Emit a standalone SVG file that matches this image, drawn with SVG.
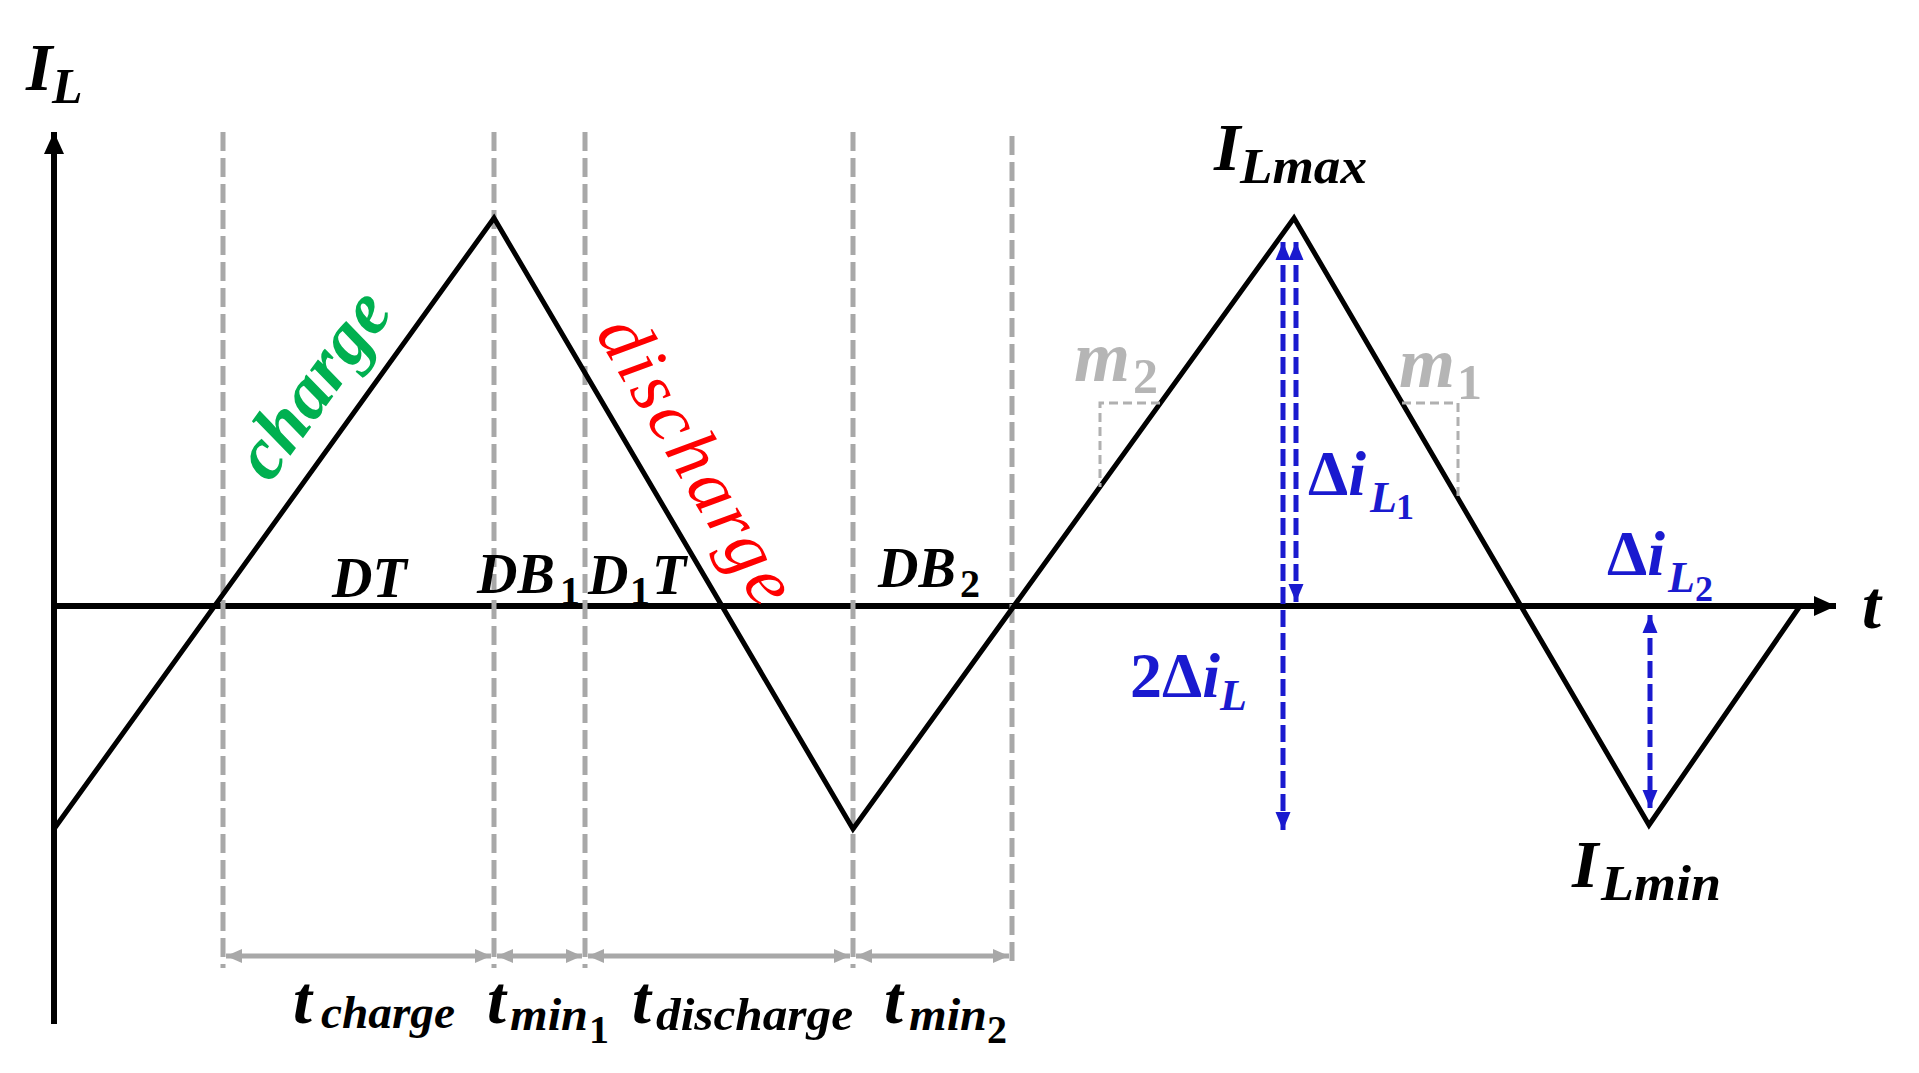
<svg xmlns="http://www.w3.org/2000/svg" width="1919" height="1073" viewBox="0 0 1919 1073">
<defs>
<style>
.m{font-family:"Liberation Serif","Times New Roman",serif;font-style:italic;font-weight:bold}
.big{font-size:68px}
.sub{font-size:50px}
.sub2{font-size:40px}
.mid{font-size:56px}
.up{font-style:normal}
.blk{fill:#000}
.blue{fill:#1a1acf}
.gtx{fill:#b5b5b5}
.guide{stroke:#a8a8a8;stroke-width:5;stroke-dasharray:19 7;fill:none}
.dim{stroke:#a8a8a8;stroke-width:5;fill:none}
.brk{stroke:#b0b0b0;stroke-width:3;stroke-dasharray:9 5;fill:none}
.ax{stroke:#000;stroke-width:6;fill:none}
.wave{stroke:#000;stroke-width:5;fill:none;stroke-linejoin:miter}
.barr{stroke:#1a1acf;stroke-width:5;stroke-dasharray:17 6;fill:none}
</style>
<marker id="axh" markerUnits="userSpaceOnUse" markerWidth="24" markerHeight="22" refX="22" refY="11" orient="auto">
<path d="M0,1 L22,11 L0,21 Z" fill="#000"/>
</marker>
<marker id="gh" markerUnits="userSpaceOnUse" markerWidth="18" markerHeight="16" refX="16" refY="8" orient="auto-start-reverse">
<path d="M0,1 L16,8 L0,15 Z" fill="#a8a8a8"/>
</marker>
<marker id="bh" markerUnits="userSpaceOnUse" markerWidth="20" markerHeight="16" refX="18" refY="8" orient="auto-start-reverse">
<path d="M0,0.5 L18,8 L0,15.5 Z" fill="#1a1acf"/>
</marker>
</defs>
<rect width="1919" height="1073" fill="#fff"/>

<g id="axes">
<line class="ax" x1="54" y1="1024" x2="54" y2="132" marker-end="url(#axh)"/>
<line class="ax" x1="54" y1="606" x2="1836" y2="606" marker-end="url(#axh)"/>
</g>

<g id="guides">
<line class="guide" x1="223" y1="132" x2="223" y2="968"/>
<line class="guide" x1="494" y1="132" x2="494" y2="968"/>
<line class="guide" x1="585" y1="132" x2="585" y2="968"/>
<line class="guide" x1="853" y1="132" x2="853" y2="968"/>
<line class="guide" x1="1012" y1="136" x2="1012" y2="968"/>
</g>

<g id="waveform">
<polyline class="wave" points="54,829 494,218 853,829 1294,218 1649,825 1800,606"/>
</g>

<g id="slope-brackets">
<polyline class="brk" points="1160,403 1100,403 1100,487"/>
<polyline class="brk" points="1402,403 1458,403 1458,498"/>
</g>

<g id="connectors">
<line class="dim" x1="226" y1="956" x2="491" y2="956" marker-start="url(#gh)" marker-end="url(#gh)"/>
<line class="dim" x1="497" y1="956" x2="582" y2="956" marker-start="url(#gh)" marker-end="url(#gh)"/>
<line class="dim" x1="588" y1="956" x2="850" y2="956" marker-start="url(#gh)" marker-end="url(#gh)"/>
<line class="dim" x1="856" y1="956" x2="1009" y2="956" marker-start="url(#gh)" marker-end="url(#gh)"/>
<line class="barr" x1="1283" y1="242" x2="1283" y2="830" marker-start="url(#bh)" marker-end="url(#bh)"/>
<line class="barr" x1="1296" y1="242" x2="1296" y2="602" marker-start="url(#bh)" marker-end="url(#bh)"/>
<line class="barr" x1="1650" y1="615" x2="1650" y2="808" marker-start="url(#bh)" marker-end="url(#bh)"/>
</g>

<g id="labels">
<text class="m big blk" x="26" y="90">I</text><text class="m sub blk" x="52" y="103">L</text>
<text class="m big blk" x="1214" y="170">I</text><text class="m sub blk" x="1240" y="183" textLength="127" lengthAdjust="spacingAndGlyphs">Lmax</text>
<text class="m big blk" x="1572" y="887">I</text><text class="m sub blk" x="1601" y="900" textLength="120" lengthAdjust="spacingAndGlyphs">Lmin</text>
<text class="m big blk" x="1862" y="628">t</text>

<text class="m mid blk" x="332" y="597">DT</text>
<text class="m mid blk" x="477" y="593">DB</text><text class="m sub2 up blk" x="560" y="604">1</text>
<text class="m mid blk" x="588" y="594">D</text><text class="m sub2 up blk" x="630" y="604">1</text><text class="m mid blk" x="652" y="594">T</text>
<text class="m mid blk" x="878" y="587">DB</text><text class="m sub2 up blk" x="960" y="597">2</text>

<text class="m big blk" x="293" y="1023">t</text><text class="m blk" style="font-size:46px" x="321" y="1028" textLength="134" lengthAdjust="spacingAndGlyphs">charge</text>
<text class="m big blk" x="487" y="1023">t</text><text class="m blk" style="font-size:46px" x="510" y="1030" textLength="78" lengthAdjust="spacingAndGlyphs">min</text><text class="m sub2 up blk" x="589" y="1043">1</text>
<text class="m big blk" x="632" y="1023">t</text><text class="m blk" style="font-size:47px" x="656" y="1030" textLength="197" lengthAdjust="spacingAndGlyphs">discharge</text>
<text class="m big blk" x="884" y="1023">t</text><text class="m blk" style="font-size:46px" x="909" y="1030" textLength="78" lengthAdjust="spacingAndGlyphs">min</text><text class="m sub2 up blk" x="987" y="1043">2</text>

<text class="m gtx" style="font-size:72px" x="1074" y="381">m</text><text class="m sub up gtx" x="1133" y="393">2</text>
<text class="m gtx" style="font-size:72px" x="1399" y="387">m</text><text class="m sub up gtx" x="1457" y="399">1</text>

<text class="m blue" style="font-size:64px" x="1308" y="495"><tspan class="up">Δ</tspan>i</text><text class="m blue" style="font-size:44px" x="1370" y="512">L</text><text class="m blue up" style="font-size:36px" x="1396" y="519">1</text>
<text class="m blue" style="font-size:64px" x="1607" y="575"><tspan class="up">Δ</tspan>i</text><text class="m blue" style="font-size:44px" x="1668" y="592">L</text><text class="m blue up" style="font-size:36px" x="1695" y="601">2</text>
<text class="m blue" style="font-size:64px" x="1130" y="697"><tspan class="up">2Δ</tspan>i</text><text class="m blue" style="font-size:44px" x="1220" y="710">L</text>

<text class="m" style="font-size:74px;fill:#00b050" transform="translate(270,484) rotate(-54.2)" textLength="212" lengthAdjust="spacing">charge</text>
<text class="m" style="font-size:74px;font-weight:normal;fill:#ff0000" transform="translate(595,333) rotate(59.56)" textLength="322" lengthAdjust="spacing">discharge</text>
</g>
</svg>
